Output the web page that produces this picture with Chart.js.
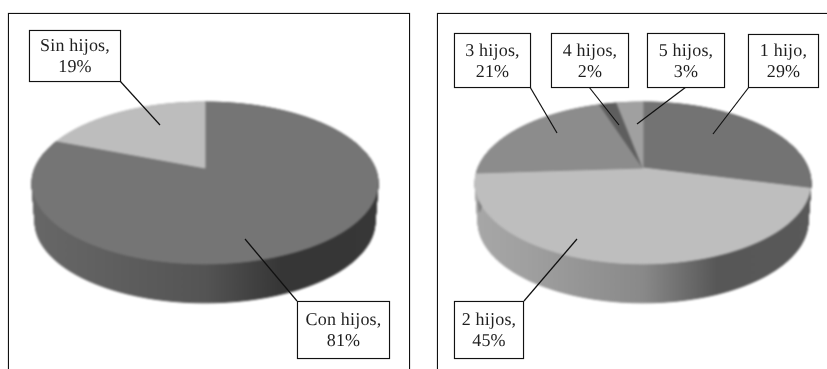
<!DOCTYPE html>
<html>
<head>
<meta charset="utf-8">
<script src="https://cdn.jsdelivr.net/npm/chart.js@4"></script>
<style>
  html, body { margin: 0; padding: 0; background: #fff; }
  body { position: relative; width: 827px; height: 369px; overflow: hidden; }
  canvas { position: absolute; top: 0; }
  .frame { position: absolute; top: 13px; height: 370px; border: 1px solid #111; box-sizing: border-box; box-shadow: 0 0 0.8px #333; }
  .box {
    position: absolute; box-sizing: border-box; background: #fff; border: 1px solid #111;
    box-shadow: 0 0 0.8px #333, inset 0 0 0.8px #333;
    font-family: "Liberation Serif", serif; font-size: 18px; line-height: 21px; color: #1f1f1f;
    letter-spacing: 0.2px; text-rendering: geometricPrecision; text-align: center;
    display: flex; flex-direction: column; justify-content: center;
  }
</style>
</head>
<body>
<div class="frame" style="left:8px;width:402px"></div>
<div class="frame" style="left:437px;width:400px"></div>
<canvas id="leftPie" width="415" height="369" style="left:0"></canvas>
<canvas id="rightPie" width="412" height="369" style="left:415px"></canvas>
<script>
const leftCategories = ["Con hijos", "Sin hijos"];
const leftValues = [81, 19];
const leftColors = ["#757575", "#bdbdbd"];

const rightCategories = ["1 hijo", "2 hijos", "3 hijos", "4 hijos", "5 hijos"];
const rightValues = [29, 45, 21, 2, 3];
const rightColors = ["#737373", "#bebebe", "#8c8c8c", "#5e5e5e", "#a0a0a0"];

// callout boxes: [left, top, right, bottom] and the point the leader runs to
const leftBoxes = [[297, 301, 389, 358], [29, 30, 120, 81]];
const leftLeaders = [[297, 301, 245, 239], [120, 81, 160, 125]];
const rightBoxes = [[748, 34, 818, 87], [454, 301, 523, 358], [454, 33, 530, 87], [551, 33, 628, 87], [647, 33, 724, 87]];
const rightLeaders = [[749, 87, 713, 134], [524, 301, 577, 239], [530, 87, 557, 133], [589, 87, 619, 125], [686, 87, 637, 124]];

// side wall shading, multiplied into each slice colour from left to right
const wallStops = [[0, 0.88], [0.15, 0.84], [0.5, 0.72], [0.72, 0.46], [1, 0.47]];

function shade(hex, f) {
  const v = Math.round(parseInt(hex.slice(1, 3), 16) * f);
  return "rgb(" + v + "," + v + "," + v + ")";
}

// perspective view of the unit disc, the centre is not the middle of the ellipse
function project(disc, arc, angle, r, drop, shrink) {
  const x = r * Math.cos(angle);
  const y = r * Math.sin(angle);
  const w = 1 - disc.lean * y;
  return [
    arc.x + arc.outerRadius * disc.xScale * shrink * x / w,
    arc.y + arc.outerRadius * disc.yScale * y / w + drop
  ];
}

function traceRim(ctx, disc, arc, from, to) {
  const steps = Math.max(4, Math.ceil(Math.abs(to - from) * 60));
  for (let i = 0; i <= steps; i++) {
    const p = project(disc, arc, from + (to - from) * i / steps, 1, 0, 1);
    ctx.lineTo(p[0], p[1]);
  }
}

// the wall is swept in thin strips so both ends of the pie keep a straight side
function fillWall(ctx, disc, arc) {
  const steps = Math.max(4, Math.ceil((arc.endAngle - arc.startAngle) * 60));
  const step = (arc.endAngle - arc.startAngle) / steps;
  ctx.beginPath();
  for (let i = 0; i < steps; i++) {
    const a = arc.startAngle + step * i;
    const p1 = project(disc, arc, a, 1, 0, 1);
    const p2 = project(disc, arc, a + step, 1, 0, 1);
    const p3 = project(disc, arc, a + step, 1, disc.depth, disc.wallShrink);
    const p4 = project(disc, arc, a, 1, disc.depth, disc.wallShrink);
    ctx.moveTo(p1[0], p1[1]);
    ctx.lineTo(p2[0], p2[1]);
    ctx.lineTo(p3[0], p3[1]);
    ctx.lineTo(p4[0], p4[1]);
    ctx.closePath();
  }
  ctx.fill();
  ctx.stroke();
}

const tiltedPie = {
  id: "tiltedPie",
  beforeDatasetDraw(chart, args, disc) {
    const arcs = chart.getDatasetMeta(args.index).data;
    const colors = chart.data.datasets[args.index].backgroundColor;
    const first = arcs[0];
    const left = first.x - first.outerRadius * disc.xScale * 1.02;
    const right = first.x + first.outerRadius * disc.xScale * 1.02;

    // slices go on a scratch canvas first so the blur softens the pie as one shape
    const scratch = document.createElement("canvas");
    scratch.width = chart.width;
    scratch.height = chart.height;
    const ctx = scratch.getContext("2d");
    ctx.lineWidth = 1;

    arcs.forEach((arc, i) => {
      const grad = ctx.createLinearGradient(left, 0, right, 0);
      wallStops.forEach(s => grad.addColorStop(s[0], shade(colors[i], s[1])));
      ctx.fillStyle = grad;
      ctx.strokeStyle = grad;
      fillWall(ctx, disc, arc);
    });
    arcs.forEach((arc, i) => {
      const c = project(disc, arc, 0, 0, 0, 1);
      ctx.fillStyle = colors[i];
      ctx.strokeStyle = colors[i];
      ctx.beginPath();
      ctx.moveTo(c[0], c[1]);
      traceRim(ctx, disc, arc, arc.startAngle, arc.endAngle);
      ctx.closePath();
      ctx.fill();
      ctx.stroke();
    });

    chart.ctx.save();
    chart.ctx.filter = "blur(0.9px)";
    chart.ctx.drawImage(scratch, 0, 0);
    chart.ctx.restore();
    return false;
  },
  afterDraw(chart, args, disc) {
    const ctx = chart.ctx;
    const dx = chart.canvas.offsetLeft;
    ctx.save();
    ctx.strokeStyle = "#111";
    ctx.lineWidth = 1.2;
    disc.leaders.forEach(l => {
      ctx.beginPath();
      ctx.moveTo(l[0] - dx, l[1]);
      ctx.lineTo(l[2] - dx, l[3]);
      ctx.stroke();
    });
    ctx.restore();
  }
};

function addBoxes(categories, values, boxes) {
  categories.forEach((name, i) => {
    const b = boxes[i];
    const el = document.createElement("div");
    el.className = "box";
    el.style.left = b[0] + "px";
    el.style.top = b[1] + "px";
    el.style.width = (b[2] - b[0] + 1) + "px";
    el.style.height = (b[3] - b[1] + 1) + "px";
    el.innerHTML = "<span>" + name + ",</span><span>" + values[i] + "%</span>";
    document.body.appendChild(el);
  });
}

function makePie(id, categories, values, colors, padding, disc) {
  new Chart(document.getElementById(id), {
    type: "pie",
    data: {
      labels: categories,
      datasets: [{ data: values, backgroundColor: colors, borderWidth: 0 }]
    },
    options: {
      responsive: false,
      animation: false,
      layout: { padding: padding },
      plugins: {
        legend: { display: false },
        tooltip: { enabled: false },
        tiltedPie: disc
      }
    },
    plugins: [tiltedPie]
  });
}

makePie("leftPie", leftCategories, leftValues, leftColors,
  { top: 0, bottom: 33, left: 0, right: 5 },
  { xScale: 1.012, yScale: 0.465, lean: 0.185, depth: 39, wallShrink: 0.982, leaders: leftLeaders });
makePie("rightPie", rightCategories, rightValues, rightColors,
  { top: 0, bottom: 33, left: 44, right: 0 },
  { xScale: 0.982, yScale: 0.465, lean: 0.185, depth: 39, wallShrink: 0.982, leaders: rightLeaders });

addBoxes(leftCategories, leftValues, leftBoxes);
addBoxes(rightCategories, rightValues, rightBoxes);
</script>
</body>
</html>
